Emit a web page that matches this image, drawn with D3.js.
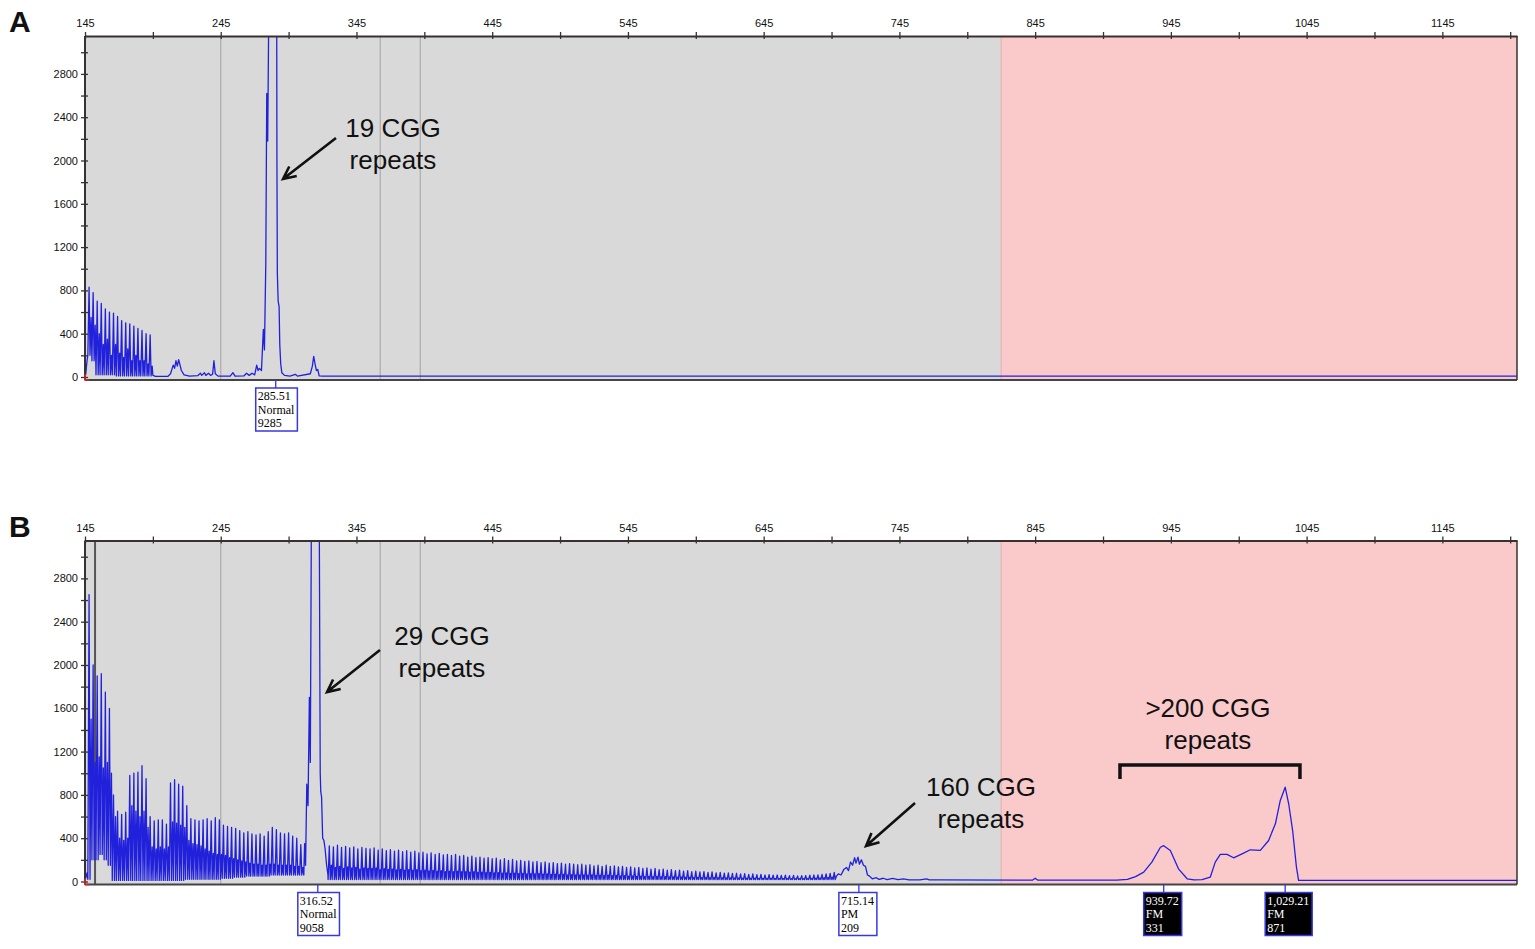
<!DOCTYPE html>
<html>
  <head>
    <style>
      html,
      body { margin: 0; background: #fff; }
      svg { display: block; }
    </style>
    <script src="https://d3js.org/d3.v7.js"></script>
  </head>
  <body>
    <svg class="chart"></svg>

    <script>
      const width = 1535;
      const height = 949;

      // axes
      const xDomain = [145, 1200];
      const yDomain = [0, 3150];
      const xLabelTicks = [145, 245, 345, 445, 545, 645, 745, 845, 945, 1045, 1145];
      const yLabelTicks = [0, 400, 800, 1200, 1600, 2000, 2400, 2800];
      const binLines = [245, 362.5, 392];
      const fullMutationStart = 820;
      const repeatStep = 3;

      // panel A: stutter peaks (one per CGG repeat) then the rest of the trace
      const prefixA = [[145.5, 20], [146.5, 150]];
      const stutterStartA = 148;
      const stutterTallA = [830, 780, 700, 680, 630, 600, 590, 560, 520, 500, 490, 470, 450, 430, 400, 390];
      const stutterMidA = [550, 480, 400, 300, 350, 200, 300, 220, 180, 260, 150, 200, 150, 150, 120, 100];
      const stutterLowA = [200, 150, 20, 20, 20, 20, 20, 10, 10, 10, 10, 10, 10, 10, 10, 10];
      const tailA = [
        [195, 15], [197, 5], [206, 5], [208, 30], [210, 110], [211, 80], [212, 150], [213, 100],
        [214, 160], [216, 60], [218, 20], [222, 8], [228, 12], [230, 35], [231, 15], [233, 40],
        [234, 15], [236, 35], [237.5, 15], [239, 25], [240, 150], [241, 30], [243, 8], [252, 8],
        [254, 40], [255.5, 8], [262, 10], [264, 35], [266, 15], [268, 35], [270, 20], [271.5, 110],
        [272.5, 60], [273.5, 80], [275, 60], [276.4, 440], [277.2, 250], [278.2, 1050], [278.9, 2620],
        [279.6, 2180], [280.8, 4000], [282.5, 6500], [284, 5000], [285.5, 9285], [286.4, 2000],
        [286.7, 960], [287.3, 700], [288, 650], [288.5, 300], [289.2, 120], [290, 40], [292, 15],
        [296, 8], [300, 25], [301.5, 8], [311, 30], [312.5, 100], [313.5, 190], [314.5, 120],
        [315.5, 60], [316.5, 70], [317.5, 10], [320, 8], [1200, 8]
      ];

      // panel B
      const prefixB = [[145.5, 30], [146.5, 80]];
      const stutterStartB = 148;
      const stutterTallB = [
        2650, 2000, 1900, 1920, 1750, 1600,
        800, 650, 620, 640,
        980, 1000, 1010, 1070, 950,
        600, 560, 570, 570, 530,
        910, 940, 900, 880,
        700, 580, 570, 560, 570, 580, 560, 590, 570,
        520, 510, 500, 490, 470, 450, 460, 440, 430, 440, 420,
        460, 500, 480, 450, 440, 450, 420, 400, 340
      ];
      const stutterMidB = [
        1500, 1100, 1150, 1050, 1100, 1000,
        600, 400, 380, 400,
        700, 650, 600, 650, 500,
        320, 300, 320, 300, 320,
        550, 540, 520, 500,
        380, 350, 340, 330, 300, 280, 260, 250, 250,
        240, 220, 210, 200, 190, 180, 170, 160, 160, 150, 150,
        160, 160, 150, 150, 150, 150, 140, 140, 130
      ];
      const stutterLowB = [
        20, 200, 200, 250, 200, 150,
        10, 10, 10, 10,
        10, 10, 10, 10, 10,
        10, 10, 10, 10, 10,
        10, 10, 10, 10,
        20, 20, 20, 20, 20, 20, 20, 20, 20,
        30, 30, 30, 40, 40, 40, 50, 50, 50, 50, 50,
        50, 60, 60, 60, 60, 60, 60, 60, 60
      ];
      const mainPeakB = [
        [306.2, 60], [306.8, 350], [307.5, 150], [308.4, 900], [309.3, 700], [310.3, 1700],
        [311, 1100], [312, 4000], [313.5, 6500], [315, 5500], [316.5, 9058], [317.7, 3000],
        [318.3, 1000], [318.7, 830], [319.3, 780], [320.1, 400], [321, 380], [321.9, 300],
        [323, 150], [324, 60]
      ];
      const stutterStartB2 = 325;
      const stutterTallB2 = [
        330, 320, 335, 315, 325, 310, 320, 300, 315, 305,
        300, 310, 290, 300, 285, 295, 280, 290, 275, 285,
        270, 280, 265, 270, 255, 265, 250, 260, 245, 250,
        240, 250, 235, 240, 225, 235, 220, 225, 215, 220,
        210, 215, 200, 210, 195, 205, 190, 195, 185, 190,
        180, 185, 175, 180, 170, 175, 165, 170, 160, 165,
        160, 155, 160, 150, 155, 145, 150, 140, 150, 140,
        145, 135, 140, 130, 135, 125, 130, 120, 125, 115,
        120, 110, 115, 105, 110, 100, 105, 95, 100, 90,
        95, 88, 92, 85, 88, 80, 84, 78, 80, 74,
        76, 70, 72, 66, 70, 64, 66, 60, 64, 58,
        60, 56, 58, 54, 56, 52, 54, 55, 58, 60,
        62, 66, 70, 75, 85
      ];
      const stutterMidB2 = [
        150, 130, 140, 120, 135, 125, 130, 115, 125, 120,
        120, 125, 110, 118, 112, 115, 108, 112, 105, 110,
        105, 110, 100, 104, 98, 102, 95, 100, 92, 96,
        92, 96, 90, 92, 86, 90, 84, 86, 82, 85,
        80, 82, 78, 80, 75, 78, 72, 75, 70, 72,
        70, 72, 68, 70, 66, 68, 64, 66, 62, 64,
        62, 60, 62, 58, 60, 56, 58, 55, 58, 55,
        56, 52, 54, 50, 52, 48, 50, 46, 48, 45,
        46, 43, 45, 42, 43, 40, 42, 38, 40, 37,
        38, 36, 37, 35, 36, 34, 35, 33, 34, 32,
        32, 31, 31, 30, 30, 29, 29, 28, 28, 27,
        27, 27, 27, 26, 26, 26, 26, 27, 28, 30,
        32, 34, 36, 40, 45
      ];
      const stutterLowB2 = 18;
      const tailB = [
        [698, 40], [700, 70], [702, 60], [704, 110], [706, 130], [707.5, 100], [709, 180],
        [710.5, 150], [712, 220], [713, 170], [714.5, 225], [715.5, 160], [717, 200], [718.5, 150],
        [720, 140], [721.5, 60], [723, 50], [725, 25], [728, 35], [730, 20], [733, 30], [736, 18],
        [740, 28], [744, 18], [748, 25], [752, 15], [760, 15], [765, 25], [767, 15], [775, 15],
        [843, 12], [845, 30], [847, 12], [905, 12], [913, 20], [919, 45], [925, 86], [931, 179],
        [937.3, 316], [939.7, 331], [944.6, 286], [950.6, 117], [957, 25], [962, 15], [968, 18],
        [974, 40], [977.7, 179], [981.4, 250], [986.3, 250], [991.2, 219], [998.6, 262],
        [1003.5, 293], [1010.9, 287], [1017, 379], [1022, 533], [1025.6, 749], [1029.2, 871],
        [1031.8, 718], [1034.7, 471], [1037.5, 133], [1039.1, 10], [1200, 10]
      ];
      const cursorB = 152.4;

      // called peaks (size, call, height)
      const peakSizesA = [285.51];
      const peakCallsA = ['Normal'];
      const peakHeightsA = [9285];
      const peakSizesB = [316.52, 715.14, 939.72, 1029.21];
      const peakCallsB = ['Normal', 'PM', 'FM', 'FM'];
      const peakHeightsB = [9058, 209, 331, 871];

      // build a trace from per-repeat peak heights
      const stutterPoints = (start, tall, mid, low) => {
        const pts = [];
        tall.forEach((h, i) => {
          const b = start + i * repeatStep;
          const lo = Array.isArray(low) ? low[i] : low;
          pts.push([b - 0.9, lo], [b, h], [b + 0.7, lo]);
          if (mid) pts.push([b + 1.5, mid[i]]);
        });
        return pts;
      };

      const traceA = [
        ...prefixA,
        ...stutterPoints(stutterStartA, stutterTallA, stutterMidA, stutterLowA),
        ...tailA
      ];
      const traceB = [
        ...prefixB,
        ...stutterPoints(stutterStartB, stutterTallB, stutterMidB, stutterLowB),
        ...mainPeakB,
        ...stutterPoints(stutterStartB2, stutterTallB2, stutterMidB2, stutterLowB2),
        ...tailB
      ];

      const svg = d3.select('svg')
        .attr('width', width)
        .attr('height', height)
        .style('font-family', '"Liberation Sans", Arial, sans-serif');

      const x = d3.scaleLinear().domain(xDomain).range([85, 1517]);
      const fmt = d3.format(',.2f');

      const arrow = (g, x1, y1, x2, y2) => {
        const a = Math.atan2(y2 - y1, x2 - x1);
        const len = 14;
        const s = 0.45;
        const p1 = [x2 - len * Math.cos(a - s), y2 - len * Math.sin(a - s)];
        const p2 = [x2 - len * Math.cos(a + s), y2 - len * Math.sin(a + s)];
        g.append('path')
          .attr('d', `M${x1},${y1}L${x2},${y2}M${p1}L${x2},${y2}L${p2}`)
          .attr('fill', 'none')
          .attr('stroke', '#111')
          .attr('stroke-width', 2.6);
      };

      const drawPanel = (p) => {
        const y = d3.scaleLinear().domain(yDomain).range([p.zero, p.zero - 341]);
        const top = y(yDomain[1]);
        const bottom = p.zero + 3;
        const g = svg.append('g');

        // background regions
        g.append('rect')
          .attr('x', x(xDomain[0])).attr('y', top)
          .attr('width', x(fullMutationStart) - x(xDomain[0]))
          .attr('height', bottom - top)
          .attr('fill', '#d9d9d9');
        g.append('rect')
          .attr('x', x(fullMutationStart)).attr('y', top)
          .attr('width', x(xDomain[1]) - x(fullMutationStart))
          .attr('height', bottom - top)
          .attr('fill', '#fac9ca');
        g.append('line')
          .attr('x1', x(fullMutationStart)).attr('x2', x(fullMutationStart))
          .attr('y1', top).attr('y2', bottom)
          .attr('stroke', '#e8aaaa');

        g.selectAll('.bin')
          .data(binLines)
          .join('line')
          .attr('x1', (d) => x(d)).attr('x2', (d) => x(d))
          .attr('y1', top).attr('y2', bottom)
          .attr('stroke', '#ababab')
          .attr('stroke-width', 1.2);

        if (p.cursor) {
          g.append('line')
            .attr('x1', x(p.cursor)).attr('x2', x(p.cursor))
            .attr('y1', top).attr('y2', bottom)
            .attr('stroke', '#555')
            .attr('stroke-width', 2);
        }

        // trace
        const clipId = `clip-${p.name}`;
        g.append('clipPath').attr('id', clipId)
          .append('rect')
          .attr('x', x(xDomain[0])).attr('y', top)
          .attr('width', x(xDomain[1]) - x(xDomain[0]))
          .attr('height', bottom - top);

        g.append('path')
          .datum(p.trace)
          .attr('clip-path', `url(#${clipId})`)
          .attr('fill', 'none')
          .attr('stroke', '#2121dc')
          .attr('stroke-width', 1.3)
          .attr('stroke-linejoin', 'round')
          .attr('d', d3.line().x((d) => x(d[0])).y((d) => y(d[1])));

        // frame
        g.append('line')
          .attr('x1', x(xDomain[0])).attr('x2', x(xDomain[1]))
          .attr('y1', bottom).attr('y2', bottom)
          .attr('stroke', '#444').attr('stroke-width', 2);
        g.append('line')
          .attr('x1', x(xDomain[1])).attr('x2', x(xDomain[1]))
          .attr('y1', top).attr('y2', bottom)
          .attr('stroke', '#333').attr('stroke-width', 1.5);

        // axes
        const xAxis = g.append('g')
          .attr('transform', `translate(0,${top})`)
          .call(d3.axisTop(x)
            .tickValues(d3.range(xDomain[0], xDomain[1], 50))
            .tickFormat((d) => (xLabelTicks.includes(d) ? d : ''))
            .tickSize(4)
            .tickSizeOuter(0));
        xAxis.select('.domain').attr('stroke', '#3a3030').attr('stroke-width', 2);
        xAxis.selectAll('.tick line').attr('y1', 3).attr('stroke', '#333').attr('stroke-width', 1.3);
        xAxis.selectAll('.tick text')
          .attr('y', -9)
          .style('font-size', '11px')
          .style('font-family', '"Liberation Sans", Arial, sans-serif')
          .attr('fill', '#111');

        const yAxis = g.append('g')
          .attr('transform', `translate(${x(xDomain[0])},0)`)
          .call(d3.axisLeft(y)
            .tickValues(d3.range(0, yDomain[1], 200))
            .tickFormat((d) => (yLabelTicks.includes(d) ? d : ''))
            .tickSize(4)
            .tickSizeOuter(0));
        yAxis.select('.domain')
          .attr('d', `M0,${top}V${bottom}`)
          .attr('stroke', '#333').attr('stroke-width', 2);
        yAxis.selectAll('.tick line').attr('x1', 3).attr('stroke', '#333').attr('stroke-width', 1.3);
        yAxis.selectAll('.tick text')
          .attr('x', -7)
          .style('font-size', '11px')
          .style('font-family', '"Liberation Sans", Arial, sans-serif')
          .attr('fill', '#111');

        // origin marker
        g.append('path')
          .attr('d', `M${x(xDomain[0])},${p.zero - 3}V${bottom}H${x(xDomain[0]) + 4}`)
          .attr('fill', 'none').attr('stroke', '#e02020').attr('stroke-width', 1.5);

        // peak call boxes
        p.sizes.forEach((size, i) => {
          const cx = x(size);
          const dark = p.calls[i] === 'FM';
          g.append('line')
            .attr('x1', cx).attr('x2', cx)
            .attr('y1', bottom).attr('y2', bottom + 8)
            .attr('stroke', '#3333dd').attr('stroke-width', 1.3);
          const box = g.append('g').attr('transform', `translate(${cx - 20},${bottom + 8})`);
          const rect = box.append('rect')
            .attr('height', 43)
            .attr('fill', dark ? '#000' : '#fff')
            .attr('stroke', '#3838e0')
            .attr('stroke-width', 1.5);
          const lines = [fmt(size), p.calls[i], p.heights[i]];
          let w = 0;
          lines.forEach((t, j) => {
            const txt = box.append('text')
              .attr('x', 2)
              .attr('y', 12 + j * 13.5)
              .attr('fill', dark ? '#fff' : '#000')
              .style('font-family', '"Liberation Serif", "Times New Roman", serif')
              .style('font-size', '12px')
              .text(t);
            w = Math.max(w, txt.node().getComputedTextLength());
          });
          rect.attr('width', w + 5);
        });

        // annotations
        p.notes.forEach((n) => {
          g.selectAll(null)
            .data(n.lines)
            .join('text')
            .attr('x', x(n.bp))
            .attr('y', (d, j) => y(n.value) + j * 32)
            .attr('text-anchor', 'middle')
            .style('font-size', '26px')
            .attr('fill', '#111')
            .text((d) => d);
          if (n.arrow) {
            arrow(g, x(n.arrow[0]), y(n.arrow[1]), x(n.arrow[2]), y(n.arrow[3]));
          }
          if (n.bracket) {
            const [b0, b1, vTop, vEnd] = n.bracket;
            g.append('path')
              .attr('d', `M${x(b0)},${y(vEnd)}V${y(vTop)}H${x(b1)}V${y(vEnd)}`)
              .attr('fill', 'none')
              .attr('stroke', '#111')
              .attr('stroke-width', 3.5);
          }
        });

        svg.append('text')
          .attr('x', 9)
          .attr('y', top - 4)
          .style('font-size', '30px')
          .style('font-weight', 'bold')
          .attr('fill', '#111')
          .text(p.name);
      };

      drawPanel({
        name: 'A',
        zero: 377,
        trace: traceA,
        sizes: peakSizesA,
        calls: peakCallsA,
        heights: peakHeightsA,
        notes: [
          { lines: ['19 CGG', 'repeats'], bp: 371.9, value: 2217, arrow: [329.9, 2208, 290.9, 1829] }
        ]
      });

      drawPanel({
        name: 'B',
        zero: 881.5,
        cursor: cursorB,
        trace: traceB,
        sizes: peakSizesB,
        calls: peakCallsB,
        heights: peakHeightsB,
        notes: [
          { lines: ['29 CGG', 'repeats'], bp: 408, value: 2185, arrow: [362.3, 2138, 323.3, 1750] },
          { lines: ['160 CGG', 'repeats'], bp: 805.1, value: 790, arrow: [756.5, 725, 720.4, 328] },
          { lines: ['>200 CGG', 'repeats'], bp: 972.3, value: 1520, bracket: [907.5, 1040.1, 1076, 948] }
        ]
      });
    </script>
  </body>
</html>
